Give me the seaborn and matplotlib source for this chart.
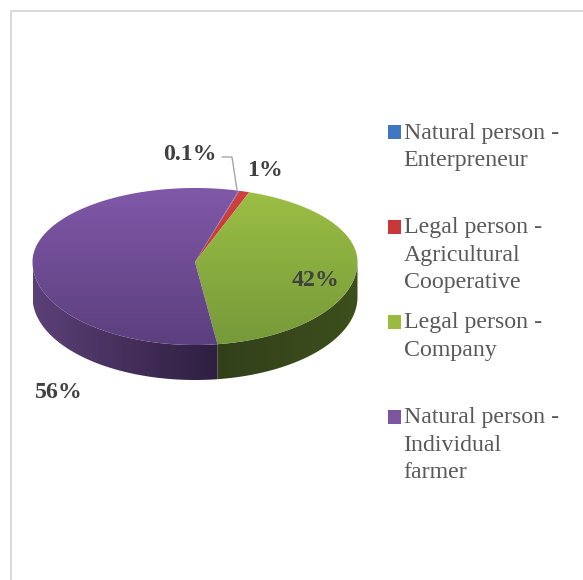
import numpy as np
import seaborn as sns
import matplotlib.pyplot as plt
from matplotlib.patches import Patch, Polygon

sns.set_theme(style='white')
plt.rcParams['font.family'] = ['Liberation Serif', 'DejaVu Serif']

# data
categories = ['Natural person -\nEnterpreneur\n ', 'Legal person -\nAgricultural\nCooperative',
              'Legal person -\nCompany\n ', 'Natural person -\nIndividual\nfarmer']
values = [0.1, 1, 42, 56]
pct_labels = ['0.1%', '1%', '42%', '56%']
colors = ['#3f78c0', '#c8373a', '#9bbb3f', '#7b55a0']
top_shades = [('#4a86cc', '#3a6cae'), ('#d0403f', '#b83234'), ('#9cc044', '#76993a'), ('#8058a8', '#5c3f7e')]
side_shades = [('#2a4a75', '#2a4a75'), ('#7a2020', '#7a2020'), ('#32401a', '#3d4f1c'), ('#5c4078', '#2e1f40')]

# pie geometry, in pixels of the picture
cx, cy = 195, 262
rx, ry_back, ry_front = 162.5, 74, 83
depth = 35
start_angle = 74.5


def rim(t):
    t = np.radians(t)
    s = np.sin(t)
    return cx + rx * np.cos(t), cy - s * np.where(s > 0, ry_back, ry_front)


fig = plt.figure(figsize=(5.83, 5.80), dpi=100)
ax = fig.add_axes([0, 0, 1, 1])
ax.set_xlim(0, 583)
ax.set_ylim(580, 0)
ax.axis('off')

# chart frame (only left and top show up)
ax.plot([11, 11, 590], [590, 10.5, 10.5], color='#d9d9d9', lw=1.4, zorder=1)

# slice angles come from the values, clockwise
sweeps = np.array(values) / np.sum(values) * 360
ends = start_angle - np.cumsum(sweeps)
starts = ends + sweeps

extent = (cx - rx - 2, cx + rx + 2, cy + ry_front + depth + 2, cy - ry_back - 2)
for a0, a1, top, side in zip(starts, ends, top_shades, side_shades):
    t = np.linspace(a0, a1, 200)
    x, y = rim(t)

    # side wall, only the front half of the rim
    tw = t[np.sin(np.radians(t)) <= 0.0]
    if len(tw) > 1:
        xw, yw = rim(tw)
        wall = Polygon(np.r_[np.c_[xw, yw], np.c_[xw[::-1], yw[::-1] + depth]], closed=True,
                       transform=ax.transData, fc='none', ec='none')
        ax.add_patch(wall)
        cmap = sns.blend_palette(side, as_cmap=True)
        grad = np.linspace(0, 1, 256).reshape(1, -1)
        im = ax.imshow(grad, cmap=cmap, aspect='auto', zorder=2,
                       extent=(xw.min(), xw.max(), extent[2], extent[3]))
        im.set_clip_path(wall)

    # top surface
    face = Polygon(np.r_[[[cx, cy]], np.c_[x, y]], closed=True, transform=ax.transData, fc='none', ec='none')
    ax.add_patch(face)
    cmap = sns.blend_palette(top, as_cmap=True)
    grad = np.linspace(0, 1, 256).reshape(-1, 1)
    im = ax.imshow(grad, cmap=cmap, aspect='auto', zorder=3,
                   extent=(extent[0], extent[1], cy + ry_front, cy - ry_back))
    im.set_clip_path(face)

ax.set_xlim(0, 583)
ax.set_ylim(580, 0)

# leader line for the smallest slice
ax.plot([222, 232, 237], [157, 157, 190], color='#a6a6a6', lw=1, zorder=4)

# percent labels
label_pos = [(190, 154), (265, 170), (315, 281), (59, 392)]
for txt, (lx, ly) in zip(pct_labels, label_pos):
    ax.text(lx, ly, txt, ha='center', va='center', fontsize=17.2, fontweight='bold', color='#404040', zorder=5)

handles = [Patch(facecolor=c, edgecolor='none') for c in colors]
leg = ax.legend(handles, categories, loc='upper left', bbox_to_anchor=(388 / 583, 1 - 122.5 / 580),
                frameon=False, fontsize=17.2, labelcolor='#595959', handlelength=0.55, handleheight=0.55,
                handletextpad=0.1, labelspacing=0.815, borderpad=0, borderaxespad=0)
for txt in leg.get_texts():
    txt.set_linespacing(1.39)
# squares sit next to the first line of each entry, not the middle one
for h in leg.legend_handles:
    h.set_y(h.get_y() + 27.5 * 0.72)

fig.savefig('out.png', dpi=100)
